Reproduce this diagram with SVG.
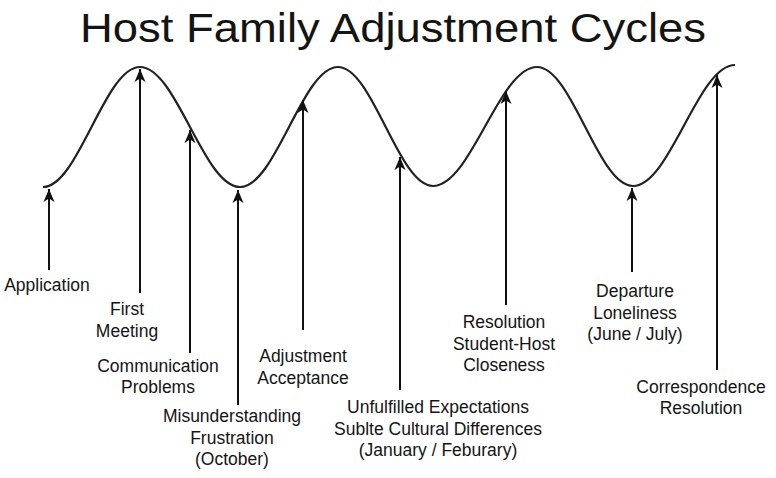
<svg xmlns="http://www.w3.org/2000/svg" width="776" height="478" viewBox="0 0 776 478">
<defs>
<style>
text{font-family:"Liberation Sans",Arial,Helvetica,sans-serif;fill:#141414;}
.lbl{font-size:17.5px;text-anchor:middle;}
.title{font-size:40px;text-anchor:middle;}
.curve{fill:none;stroke:#222;stroke-width:2.2;}
.arr{stroke:#111;stroke-width:2;fill:none;marker-end:url(#ah);}
</style>
<marker id="ah" markerUnits="userSpaceOnUse" markerWidth="16" markerHeight="12" viewBox="-14 -6 16 12" refX="0" refY="0" orient="auto" overflow="visible">
<path d="M0,0 L-13,-5.5 L-9.5,0 L-13,5.5 Z" fill="#111"/>
</marker>
</defs>
<rect width="776" height="478" fill="#fff"/>
<g id="title"><text class="title" x="393" y="42" textLength="626" lengthAdjust="spacingAndGlyphs">Host Family Adjustment Cycles</text></g>
<g id="curve">
<path class="curve" d="M43,187 C78.3,187 104.7,67 140,67 C176.4,67 203.6,187 240,187 C275.7,187 302.3,67 338,67 C372.6,67 398.4,186 433,186 C470.9,186 499.1,67 537,67 C572,67 598,186 633,186 C670,186 698,65 735,65"/>
</g>
<g id="connectors">
<line class="arr" x1="49" y1="270" x2="49" y2="189"/>
<line class="arr" x1="140" y1="293" x2="140" y2="69"/>
<line class="arr" x1="190" y1="353" x2="190" y2="130"/>
<line class="arr" x1="238" y1="405" x2="238" y2="190"/>
<line class="arr" x1="303" y1="330" x2="303" y2="100"/>
<line class="arr" x1="400" y1="390" x2="400" y2="157"/>
<line class="arr" x1="506" y1="305" x2="506" y2="91"/>
<line class="arr" x1="632" y1="272" x2="632" y2="188"/>
<line class="arr" x1="717" y1="370" x2="717" y2="75"/>
</g>
<g id="n-application"><text class="lbl" x="47" y="291">Application</text></g>
<g id="n-first-meeting"><text class="lbl" x="127" y="315">First</text><text class="lbl" x="127" y="337">Meeting</text></g>
<g id="n-communication"><text class="lbl" x="158" y="372">Communication</text><text class="lbl" x="158" y="393">Problems</text></g>
<g id="n-misunderstanding"><text class="lbl" x="232" y="422">Misunderstanding</text><text class="lbl" x="232" y="444">Frustration</text><text class="lbl" x="232" y="465">(October)</text></g>
<g id="n-adjustment"><text class="lbl" x="303" y="362">Adjustment</text><text class="lbl" x="303" y="384">Acceptance</text></g>
<g id="n-unfulfilled"><text class="lbl" x="438" y="413">Unfulfilled Expectations</text><text class="lbl" x="438" y="435">Sublte Cultural Differences</text><text class="lbl" x="438" y="456">(January / Feburary)</text></g>
<g id="n-resolution"><text class="lbl" x="504" y="328">Resolution</text><text class="lbl" x="504" y="350">Student-Host</text><text class="lbl" x="504" y="371">Closeness</text></g>
<g id="n-departure"><text class="lbl" x="635" y="297">Departure</text><text class="lbl" x="635" y="319">Loneliness</text><text class="lbl" x="635" y="340">(June / July)</text></g>
<g id="n-correspondence"><text class="lbl" x="701" y="393">Correspondence</text><text class="lbl" x="701" y="414">Resolution</text></g>
</svg>
